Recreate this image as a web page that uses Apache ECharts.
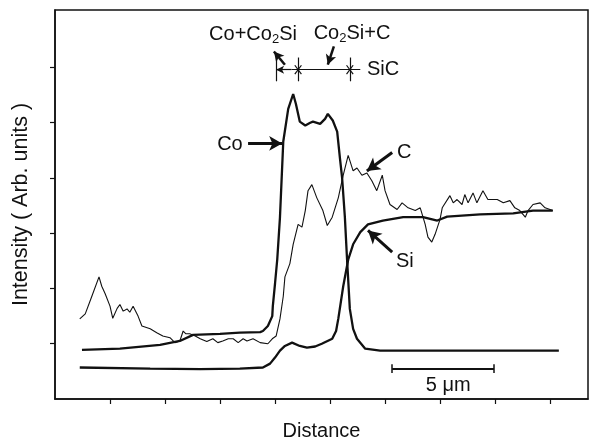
<!DOCTYPE html>
<html>
<head>
<meta charset="utf-8">
<script src="https://cdn.jsdelivr.net/npm/echarts@6/dist/echarts.min.js"></script>
<style>html,body{margin:0;padding:0;background:#fff}#c{width:591px;height:446px}</style>
</head>
<body>
<div id="c"></div>
<script>
// Distance (axis units) / intensity (arb. units)
var coX = [0.49,1.18,1.91,2.27,2.51,3.00,3.36,3.73,3.78,3.87,3.95,3.96,4.00,4.04,4.09,4.15,4.24,4.33,4.38,4.45,4.55,4.64,4.69,4.82,4.91,4.96,5.05,5.13,5.18,5.22,5.27,5.31,5.36,5.42,5.49,5.64,5.91,6.64,7.73,9.16];
var coY = [0.89,0.91,0.98,1.05,1.16,1.18,1.20,1.21,1.23,1.32,1.50,1.68,2.09,2.52,3.29,4.66,5.25,5.52,5.34,5.02,4.95,5.00,5.02,4.98,5.07,5.16,5.04,4.84,4.36,4.00,3.29,2.52,1.63,1.27,1.09,0.91,0.875,0.875,0.875,0.875];

var siX = [0.45,1.73,2.64,3.36,3.78,3.91,4.00,4.09,4.18,4.31,4.45,4.58,4.73,4.85,5.04,5.11,5.15,5.24,5.33,5.42,5.55,5.69,5.96,6.33,6.69,6.95,7.13,7.73,8.33,8.69,9.05];
var siY = [0.57,0.55,0.54,0.55,0.57,0.64,0.75,0.875,0.96,1.02,0.96,0.93,0.95,1.00,1.09,1.23,1.45,2.04,2.52,2.80,3.02,3.16,3.23,3.29,3.29,3.23,3.30,3.34,3.36,3.41,3.41];

var cX = [0.45,0.55,0.67,0.80,0.85,0.91,1.00,1.05,1.13,1.18,1.24,1.31,1.36,1.42,1.51,1.58,1.73,1.85,1.96,2.09,2.18,2.27,2.33,2.38,2.45,2.55,2.64,2.76,2.87,2.96,3.05,3.15,3.24,3.33,3.42,3.49,3.60,3.73,3.87,3.95,4.02,4.09,4.15,4.18,4.27,4.33,4.42,4.49,4.55,4.60,4.67,4.76,4.87,4.95,5.04,5.15,5.24,5.33,5.42,5.49,5.58,5.67,5.76,5.85,5.95,6.00,6.09,6.22,6.31,6.42,6.55,6.64,6.73,6.78,6.85,6.91,7.00,7.04,7.18,7.24,7.31,7.40,7.45,7.51,7.60,7.67,7.78,7.87,8.04,8.15,8.27,8.36,8.45,8.55,8.60,8.69,8.82,8.91,9.05];
var cY = [1.45,1.54,1.86,2.21,2.04,1.91,1.68,1.46,1.64,1.71,1.59,1.63,1.57,1.68,1.50,1.32,1.27,1.20,1.14,1.11,1.02,1.05,1.23,1.18,1.18,1.14,1.09,1.04,1.09,1.02,1.05,1.09,1.09,1.02,1.09,1.05,1.09,1.02,1.00,1.09,1.14,1.45,1.86,2.21,2.45,2.80,3.16,3.11,3.41,3.77,3.88,3.64,3.41,3.14,3.29,3.64,4.05,4.41,4.13,4.18,4.05,4.09,3.95,3.77,4.05,3.77,3.52,3.43,3.55,3.46,3.41,3.46,3.16,2.93,2.84,2.98,3.25,3.46,3.68,3.55,3.61,3.52,3.70,3.55,3.73,3.55,3.77,3.61,3.61,3.55,3.59,3.46,3.41,3.29,3.41,3.52,3.55,3.46,3.41];

var xTicks = [1,2,3,4,5,6,7,8,9];
var yTicks = [1,2,3,4,5,6];

function pairs(xs, ys){ return xs.map(function(x,i){ return [x, ys[i]]; }); }

var INK = '#111';
var FONT = 'Liberation Sans, Arial, sans-serif';

function seg(a, b, w, endSym, symSize){
  return [
    {coord: a, symbol: 'none', lineStyle: {width: w, color: INK, type: 'solid'}},
    {coord: b, symbol: endSym || 'none', symbolSize: symSize || 10}
  ];
}

var annotLines = [
  seg([3.51,4.625],[4.13,4.625],3,'arrow',[11,13]),   // Co arrow
  seg([6.13,4.46],[5.67,4.125],3,'arrow',[11,13]),    // C arrow
  seg([6.13,2.66],[5.69,3.05],3,'arrow',[11,13]),     // Si arrow
  seg([4.30,5.96],[4.02,5.96],1.2,'arrow',[6,8]),     // bracket left part
  seg([4.30,5.96],[5.55,5.96],1.2),                   // bracket line
  seg([4.02,6.18],[4.02,5.75],1.2),
  seg([4.42,6.18],[4.42,5.75],1.2),
  seg([5.36,6.18],[5.36,5.75],1.2),
  seg([4.36,6.04],[4.48,5.88],1.2),
  seg([4.48,6.04],[4.36,5.88],1.2),
  seg([5.30,6.04],[5.42,5.88],1.2),
  seg([5.42,6.04],[5.30,5.88],1.2),
  seg([4.18,6.05],[3.98,6.29],2.5,'arrow',[8,10]),    // pointer 1
  seg([5.07,6.38],[4.96,6.05],2.5,'arrow',[8,10]),    // pointer 2
  seg([6.13,0.55],[7.98,0.55],2),                     // scale bar
  seg([6.13,0.63],[6.13,0.47],1.5),
  seg([7.98,0.63],[7.98,0.47],1.5)
];

var chart = echarts.init(document.getElementById('c'), null, {renderer: 'canvas'});
var option = {
  animation: false,
  backgroundColor: '#fff',
  grid: {left: 55, right: 3, top: 10, bottom: 42, show: true, borderColor: INK, borderWidth: 1.5, backgroundColor: 'transparent'},
  xAxis: {
    type: 'value', min: 0, max: 9.69,
    name: 'Distance', nameLocation: 'middle', nameGap: 22,
    nameTextStyle: {fontFamily: FONT, fontSize: 20, color: INK},
    axisLine: {show: true, lineStyle: {color: INK, width: 1.5}},
    axisTick: {show: true, inside: false, length: 5, customValues: xTicks, lineStyle: {color: INK, width: 1.2}},
    axisLabel: {show: false},
    splitLine: {show: false}
  },
  yAxis: {
    type: 'value', min: 0, max: 7.04,
    name: 'Intensity ( Arb. units )', nameLocation: 'middle', nameGap: 23, nameRotate: 90,
    nameTextStyle: {fontFamily: FONT, fontSize: 21.5, color: INK},
    axisLine: {show: true, lineStyle: {color: INK, width: 1.5}},
    axisTick: {show: true, inside: false, length: 5, customValues: yTicks, lineStyle: {color: INK, width: 1.2}},
    axisLabel: {show: false},
    splitLine: {show: false}
  },
  series: [
    {type: 'line', name: 'Co', data: pairs(coX, coY), showSymbol: false, symbol: 'none',
     lineStyle: {color: INK, width: 2.3}, z: 3,
     markLine: {silent: true, animation: false, label: {show: false}, symbol: ['none','none'], data: annotLines}},
    {type: 'line', name: 'C', data: pairs(cX, cY), showSymbol: false, symbol: 'none',
     lineStyle: {color: INK, width: 1.1}, z: 2},
    {type: 'line', name: 'Si', data: pairs(siX, siY), showSymbol: false, symbol: 'none',
     lineStyle: {color: INK, width: 2.3}, z: 3}
  ]
};
chart.setOption(option);

function px(p){ return chart.convertToPixel({gridIndex: 0}, p); }
function txt(p, text, align, size, rich){
  var q = px(p);
  return {type: 'text', x: q[0], y: q[1], silent: true,
    style: {text: text, fill: INK, font: (size||20) + 'px ' + FONT, align: align || 'center', verticalAlign: 'middle', rich: rich}};
}
var subRich = {sub: {fontSize: 13, fontFamily: FONT, fill: INK, padding: [9,0,0,0]}};
chart.setOption({graphic: [
  txt([3.18,4.61], 'Co', 'center'),
  txt([6.35,4.46], 'C', 'center'),
  txt([6.36,2.48], 'Si', 'center'),
  txt([5.67,5.96], 'SiC', 'left'),
  txt([3.60,6.59], 'Co+Co{sub|2}Si', 'center', 20, subRich),
  txt([5.40,6.61], 'Co{sub|2}Si+C', 'center', 20, subRich),
  txt([7.15,0.25], '5 \u03bcm', 'center')
]});
</script>
</body>
</html>
